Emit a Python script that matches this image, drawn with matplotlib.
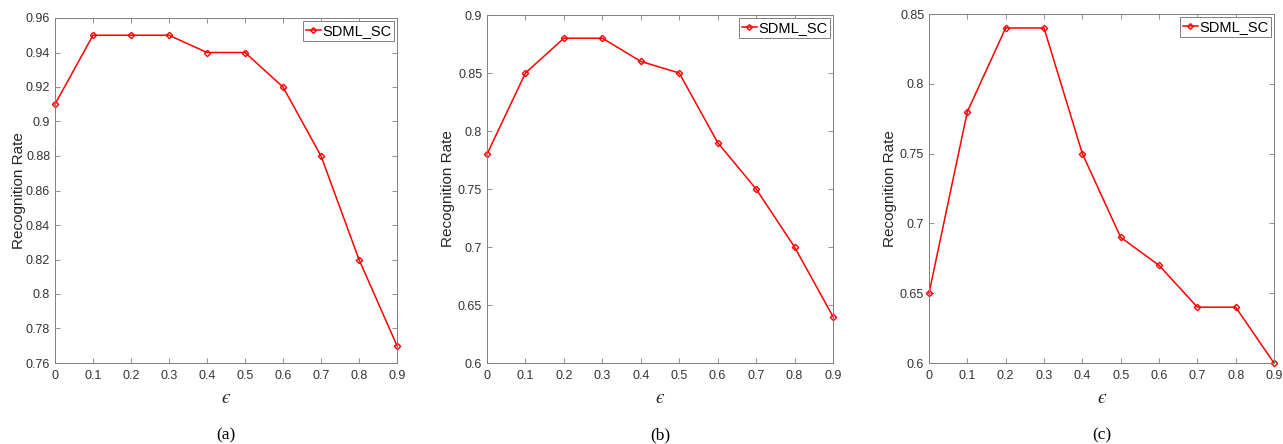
import matplotlib
matplotlib.use('Agg')
import matplotlib.pyplot as plt
import numpy as np

plt.rcParams['font.family'] = ['Liberation Sans', 'DejaVu Sans']

# epsilon values shared by all panels
eps = [0, 0.1, 0.2, 0.3, 0.4, 0.5, 0.6, 0.7, 0.8, 0.9]

# recognition rates per panel
rate_a = [0.91, 0.95, 0.95, 0.95, 0.94, 0.94, 0.92, 0.88, 0.82, 0.77]
rate_b = [0.78, 0.85, 0.88, 0.88, 0.86, 0.85, 0.79, 0.75, 0.70, 0.64]
rate_c = [0.65, 0.78, 0.84, 0.84, 0.75, 0.69, 0.67, 0.64, 0.64, 0.60]

yticks_a = [0.76, 0.78, 0.8, 0.82, 0.84, 0.86, 0.88, 0.9, 0.92, 0.94, 0.96]
yticks_b = [0.6, 0.65, 0.7, 0.75, 0.8, 0.85, 0.9]
yticks_c = [0.6, 0.65, 0.7, 0.75, 0.8, 0.85]
captions = ['(a)', '(b)', '(c)']

W, H = 1283, 444
fig = plt.figure(figsize=(W / 100, H / 100), dpi=100)

# axes boxes in pixels: left, right, top, bottom, ylabel right edge
boxes = [(55, 397, 18, 363, 26), (487, 833, 15, 363, 455), (929, 1274, 14, 363, 897)]
datasets = [rate_a, rate_b, rate_c]
ytick_sets = [yticks_a, yticks_b, yticks_c]

axis_color = '#808080'
label_color = '#333333'
for (l, r, t, b, yl), rates, yt, cap in zip(boxes, datasets, ytick_sets, captions):
    ax = fig.add_axes([l / W, 1 - b / H, (r - l) / W, (b - t) / H])
    ax.plot(eps, rates, color='red', lw=1.1, marker='D', markersize=3.2,
            markerfacecolor='none', markeredgecolor='red', markeredgewidth=1.0,
            label='SDML_SC', clip_on=False)
    ax.set_xlim(0, 0.9)
    ax.set_ylim(yt[0], yt[-1])
    ax.set_xticks(eps)
    ax.set_xticklabels([f'{v:g}' for v in eps])
    ax.set_yticks(yt)
    ax.set_yticklabels([f'{v:g}' for v in yt])
    ax.tick_params(direction='in', top=True, right=True, length=3.5, width=0.6,
                   colors=axis_color, labelsize=9, labelcolor=label_color)
    ax.tick_params(axis='x', pad=5)
    for s in ax.spines.values():
        s.set_color(axis_color)
        s.set_linewidth(0.7)
    ax.set_ylabel('Recognition Rate', fontsize=11, color='#262626')
    ax.yaxis.set_label_coords((yl - l) / (r - l), 0.5)
    ax.set_xlabel('\u03f5', fontsize=14, color='#262626', labelpad=5,
                  family='STIXGeneral', style='italic')
    leg = ax.legend(loc='upper right', fontsize=10.5, handlelength=1.0,
                    handletextpad=0.1, borderpad=0.2, borderaxespad=0.2,
                    fancybox=False, framealpha=1, markerscale=0.9)
    leg.get_frame().set_edgecolor(axis_color)
    leg.get_frame().set_linewidth(0.7)
    fig.text((l + r) / 2 / W, 1 - 435 / H, cap, ha='center', va='center',
             fontsize=12.5, family='Liberation Serif')

fig.savefig('out.png', dpi=100)
